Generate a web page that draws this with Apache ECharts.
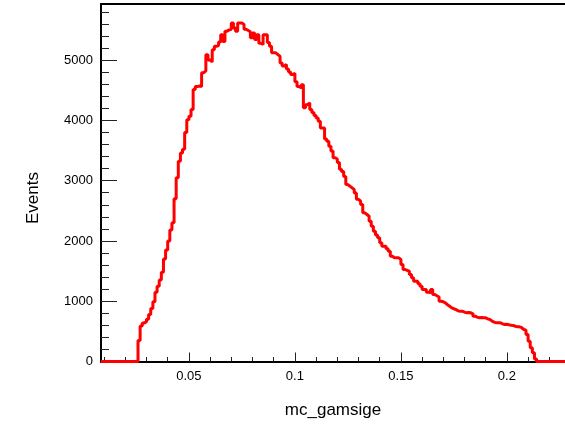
<!DOCTYPE html>
<html>
<head>
<meta charset="utf-8">
<script src="https://cdn.jsdelivr.net/npm/echarts@6/dist/echarts.min.js"></script>
<style>html,body{margin:0;padding:0;background:#fff}#c{width:565px;height:425px}</style>
</head>
<body>
<div id="c"></div>
<script>
// Histogram: bin low edge start, bin width, counts per bin
const binStart = 0.008;
const binWidth = 0.001;
const counts = [
  0,0,0,0,0,0,0,0,0,0,0,0,0,0,0,0,0,0,
  350,590,640,660,700,780,880,990,1150,1250,
  1350,1480,1700,1850,2000,2180,2300,2700,3050,3320,
  3460,3520,3800,4010,4070,4180,4510,4560,4570,4560,
  4790,4820,5090,5000,4970,5170,5230,5240,5300,5420,
  5310,5480,5500,5510,5616,5533,5480,5616,5616,5590,
  5510,5490,5470,5370,5450,5340,5420,5280,5260,5420,
  5420,5290,5230,5120,5120,5090,5060,4950,4900,4925,
  4850,4800,4760,4780,4640,4560,4540,4590,4210,4260,
  4290,4180,4130,4080,4040,3985,3875,3875,3690,3654,
  3571,3490,3380,3360,3300,3190,3150,3070,2935,2907,
  2880,2850,2797,2690,2659,2604,2466,2438,2410,2327,
  2244,2161,2100,2051,1968,1912,1912,1870,1829,1746,
  1719,1719,1719,1692,1609,1526,1510,1498,1443,1388,
  1332,1332,1290,1249,1194,1194,1150,1139,1194,1111,
  1090,1070,1000,990,973,940,917,890,875,862,
  840,834,834,820,807,813,807,790,751,735,
  724,729,724,724,707,696,670,652,641,641,
  641,625,613,619,610,602,597,585,575,575,
  560,531,520,448,337,227,144,40,
  0,0,0,0,0,0,0,0,0,0,0,0,0,0
];
const xMajorTicks = [0.05, 0.1, 0.15, 0.2];
const xMinorTicks = [0.01,0.02,0.03,0.04,0.05,0.06,0.07,0.08,0.09,0.1,0.11,0.12,0.13,0.14,0.15,0.16,0.17,0.18,0.19,0.2,0.21,0.22];
const yMajorTicks = [0, 1000, 2000, 3000, 4000, 5000];
const yMinorTicks = [200,400,600,800,1200,1400,1600,1800,2200,2400,2600,2800,3200,3400,3600,3800,4200,4400,4600,4800,5200,5400,5600,5800];
const xRange = [0.00854, 0.2274];
const yRange = [0, 5930];
const xTitle = 'mc_gamsige';
const yTitle = 'Events';

const pts = [];
for (let i = 0; i < counts.length; i++) {
  const lo = binStart + i * binWidth;
  pts.push([Math.min(Math.max(lo, xRange[0]), xRange[1]), counts[i]]);
}
pts.push([Math.min(binStart + counts.length * binWidth, xRange[1]), counts[counts.length - 1]]);

const font = 'Liberation Sans, Arial, Helvetica, sans-serif';
const chart = echarts.init(document.getElementById('c'), null, {renderer: 'canvas'});
chart.setOption({
  animation: false,
  grid: {left: 101, top: 4, right: -2, bottom: 63.5, show: false},
  graphic: [{
    type: 'text', x: 33, y: 198, rotation: Math.PI / 2,
    style: {text: yTitle, align: 'center', verticalAlign: 'middle', fill: '#000', font: '17px ' + font}
  }],
  xAxis: [{
    type: 'value', min: xRange[0], max: xRange[1],
    position: 'bottom',
    axisLine: {show: true, onZero: false, lineStyle: {color: '#000', width: 2}},
    splitLine: {show: false},
    axisTick: {show: true, inside: true, length: 9, customValues: xMajorTicks, lineStyle: {color: '#222', width: 1}},
    axisLabel: {show: true, customValues: xMajorTicks, margin: 8, color: '#000', fontSize: 13, fontFamily: font,
      formatter: v => String(+(+v).toFixed(3))},
    name: xTitle, nameLocation: 'middle', nameGap: 40,
    nameTextStyle: {color: '#000', fontSize: 17, fontFamily: font}
  }, {
    type: 'value', min: xRange[0], max: xRange[1],
    position: 'bottom',
    axisLine: {show: false},
    splitLine: {show: false},
    axisTick: {show: true, inside: true, length: 4.5, customValues: xMinorTicks, lineStyle: {color: '#222', width: 1}},
    axisLabel: {show: false}
  }, {
    type: 'value', min: xRange[0], max: xRange[1],
    position: 'top',
    axisLine: {show: true, onZero: false, lineStyle: {color: '#000', width: 2}},
    splitLine: {show: false},
    axisTick: {show: false},
    axisLabel: {show: false}
  }],
  yAxis: [{
    type: 'value', min: yRange[0], max: yRange[1],
    position: 'left',
    axisLine: {show: true, onZero: false, lineStyle: {color: '#000', width: 2}},
    splitLine: {show: false},
    axisTick: {show: true, inside: true, length: 16, customValues: yMajorTicks, lineStyle: {color: '#222', width: 1}},
    axisLabel: {show: true, customValues: yMajorTicks, margin: 8, color: '#000', fontSize: 13, fontFamily: font,
      formatter: v => String(Math.round(v))}
  }, {
    type: 'value', min: yRange[0], max: yRange[1],
    position: 'left',
    axisLine: {show: false},
    splitLine: {show: false},
    axisTick: {show: true, inside: true, length: 8, customValues: yMinorTicks, lineStyle: {color: '#222', width: 1}},
    axisLabel: {show: false}
  }],
  series: [{
    type: 'line', xAxisIndex: 0, yAxisIndex: 0,
    step: 'end', data: pts, showSymbol: false, symbol: 'none',
    clip: false,
    lineStyle: {color: '#ff0000', width: 3},
    z: 5
  }]
});
</script>
</body>
</html>
